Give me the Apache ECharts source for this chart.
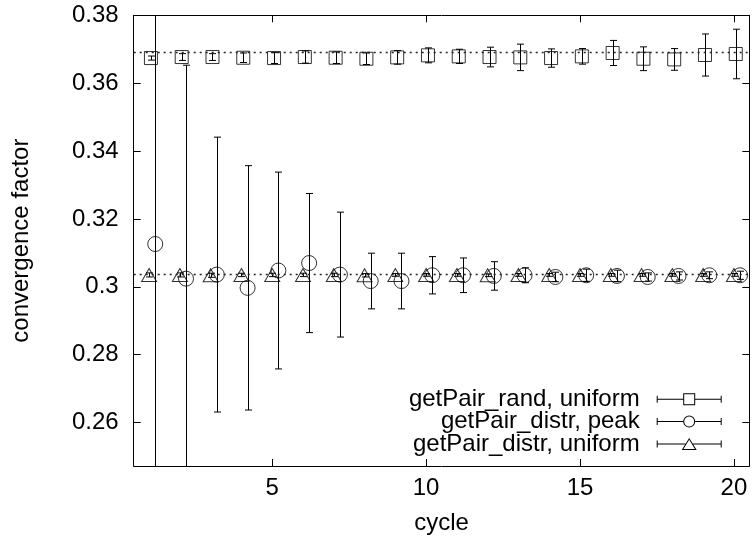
<!DOCTYPE html>
<html>
<head>
<meta charset="utf-8">
<script src="https://cdn.jsdelivr.net/npm/echarts@6/dist/echarts.min.js"></script>
<style>
  html, body { margin: 0; padding: 0; background: #ffffff; }
  #chart { width: 754px; height: 540px; }
</style>
</head>
<body>
<div id="chart"></div>
<script>
// ---- data -------------------------------------------------------------
const cycles = [1, 2, 3, 4, 5, 6, 7, 8, 9, 10, 11, 12, 13, 14, 15, 16, 17, 18, 19, 20];

const randUniformMean = [0.3674, 0.3677, 0.3677, 0.3675, 0.3674, 0.3677, 0.3675, 0.3672, 0.3676, 0.3682,
                         0.3679, 0.3677, 0.3676, 0.3674, 0.3679, 0.3689, 0.3672, 0.3670, 0.3683, 0.3686];
const randUniformErr  = [0.0006, 0.0010, 0.0010, 0.0014, 0.0016, 0.0018, 0.0017, 0.0017, 0.0020, 0.0022,
                         0.0021, 0.0029, 0.0039, 0.0027, 0.0023, 0.0037, 0.0035, 0.0032, 0.0062, 0.0073];

const distrPeakMean = [0.3126, 0.3024, 0.3036, 0.2997, 0.3048, 0.3070, 0.3036, 0.3017, 0.3017, 0.3034,
                       0.3034, 0.3032, 0.3034, 0.3029, 0.3034, 0.3032, 0.3029, 0.3032, 0.3034, 0.3034];
const distrPeakErr  = [0.0850, 0.0629, 0.0405, 0.0360, 0.0290, 0.0205, 0.0184, 0.0082, 0.0082, 0.0055,
                       0.0051, 0.0042, 0.0022, 0.0014, 0.0018, 0.0017, 0.0012, 0.0012, 0.0010, 0.0012];

const distrUniformMean = [0.3035, 0.3035, 0.3034, 0.3035, 0.3035, 0.3035, 0.3035, 0.3034, 0.3035, 0.3035,
                          0.3035, 0.3034, 0.3035, 0.3035, 0.3035, 0.3035, 0.3035, 0.3035, 0.3035, 0.3035];
const distrUniformErr  = [0.0006, 0.0006, 0.0006, 0.0005, 0.0005, 0.0005, 0.0005, 0.0005, 0.0004, 0.0004,
                          0.0004, 0.0004, 0.0004, 0.0004, 0.0004, 0.0004, 0.0004, 0.0004, 0.0004, 0.0004];

// expected (theoretical) convergence factors
const referenceLevels = [0.3692, 0.3036];

const seriesNames = ['getPair_rand, uniform', 'getPair_distr, peak', 'getPair_distr, uniform'];
const xTickValues = [5, 10, 15, 20];
const yTickValues = [0.26, 0.28, 0.30, 0.32, 0.34, 0.36, 0.38];

// small shift along the cycle axis so the three series do not sit on top of each other
const cycleShift = [0.06, 0.2, 0];

// ---- helpers ----------------------------------------------------------
const FONT = 'Liberation Sans';
const FS = 24;

function points(means, shift) {
  return cycles.map((c, i) => [c + shift, means[i]]);
}
function bars(means, errs, shift) {
  return cycles.map((c, i) => [c + shift, means[i] - errs[i], means[i] + errs[i]]);
}

function renderErrorBar(params, api) {
  const x = api.value(0);
  const top = api.coord([x, api.value(2)]);
  const bot = api.coord([x, api.value(1)]);
  const cx = Math.round(top[0]) + 0.5;
  const half = 3.5;
  const style = { stroke: '#000', lineWidth: 1, fill: null };
  const cs = params.coordSys;
  return {
    type: 'group',
    clipPath: { type: 'rect', shape: { x: cs.x, y: cs.y, width: cs.width, height: cs.height } },
    children: [
      { type: 'line', shape: { x1: cx, y1: top[1], x2: cx, y2: bot[1] }, style },
      { type: 'line', shape: { x1: cx - half, y1: top[1], x2: cx + half, y2: top[1] }, style },
      { type: 'line', shape: { x1: cx - half, y1: bot[1], x2: cx + half, y2: bot[1] }, style }
    ]
  };
}

// legend keys: a horizontal error bar with the marker in the middle (65 x 12)
const barPart = 'M0 5.5 H26.5 V6.5 H0 Z M38.5 5.5 H65 V6.5 H38.5 Z M0 2.5 H1 V9.5 H0 Z M64 2.5 H65 V9.5 H64 Z';
const legendIcons = [
  'path://' + barPart + ' M26.5 0 H38.5 V12 H26.5 Z M27.5 1 V11 H37.5 V1 Z',
  'path://' + barPart + ' M38.5 6 A6 6 0 1 1 26.5 6 A6 6 0 1 1 38.5 6 Z M37.5 6 A5 5 0 1 0 27.5 6 A5 5 0 1 0 37.5 6 Z',
  'path://M0 5.5 H28.8 V6.5 H0 Z M36.2 5.5 H65 V6.5 H36.2 Z M0 2.5 H1 V9.5 H0 Z M64 2.5 H65 V9.5 H64 Z' +
    ' M32.5 0 L40 12 L25 12 Z M32.5 1.9 L26.8 11 L38.2 11 Z'
];

const markerSymbols = ['rect', 'circle', 'triangle'];
const markerSizes = [[13, 13], 15, [15, 13]];
const meanSets = [randUniformMean, distrPeakMean, distrUniformMean];
const errSets = [randUniformErr, distrPeakErr, distrUniformErr];

const series = [];
seriesNames.forEach((name, k) => {
  series.push({
    name: name,
    type: 'custom',
    renderItem: renderErrorBar,
    data: bars(meanSets[k], errSets[k], cycleShift[k]),
    encode: { x: 0, y: [1, 2] },
    z: 2,
    silent: true
  });
  series.push({
    name: name,
    type: 'scatter',
    symbol: markerSymbols[k],
    symbolSize: markerSizes[k],
    data: points(meanSets[k], cycleShift[k]),
    itemStyle: { color: 'rgba(0,0,0,0)', borderColor: '#000', borderWidth: 1 },
    z: 3,
    silent: true
  });
});

// dotted reference levels
series.push({
  type: 'line',
  data: [],
  silent: true,
  markLine: {
    silent: true,
    symbol: 'none',
    precision: 6,
    label: { show: false },
    lineStyle: { color: '#222', width: 1.3, type: [2, 4] },
    data: referenceLevels.map(v => ({ yAxis: v }))
  }
});

const axisLineStyle = { show: true, lineStyle: { color: '#000', width: 1 } };
const tickStyle = (vals) => ({ show: true, inside: true, length: 7, lineStyle: { color: '#000', width: 1 }, customValues: vals });
const labelStyle = { color: '#000', fontFamily: FONT, fontSize: FS };

const option = {
  animation: false,
  backgroundColor: '#ffffff',
  textStyle: { fontFamily: FONT },
  grid: { left: 133.7, right: 4.7, top: 15.3, bottom: 66, containLabel: false },
  legend: {
    orient: 'vertical',
    align: 'right',
    right: 32.3,
    top: 387.3,
    padding: 0,
    itemWidth: 65,
    itemHeight: 12,
    itemGap: -1.7,
    selectedMode: false,
    itemStyle: { color: '#000', borderWidth: 0 },
    textStyle: { color: '#000', fontFamily: FONT, fontSize: FS, padding: [0, 12, 0, 0] },
    data: seriesNames.map((n, k) => ({ name: n, icon: legendIcons[k] }))
  },
  xAxis: [
    {
      type: 'value', position: 'bottom', min: 0.5, max: 20.5,
      name: 'cycle', nameLocation: 'middle', nameGap: 45,
      nameTextStyle: { color: '#000', fontFamily: FONT, fontSize: FS },
      axisLine: axisLineStyle,
      axisTick: tickStyle(xTickValues),
      axisLabel: Object.assign({ customValues: xTickValues, margin: 10 }, labelStyle),
      splitLine: { show: false }
    },
    {
      type: 'value', position: 'top', min: 0.5, max: 20.5,
      axisLine: axisLineStyle,
      axisTick: tickStyle(xTickValues),
      axisLabel: { show: false },
      splitLine: { show: false }
    }
  ],
  yAxis: [
    {
      type: 'value', position: 'left', min: 0.2472, max: 0.38,
      name: 'convergence factor', nameLocation: 'middle', nameGap: 100, nameRotate: 90,
      nameTextStyle: { color: '#000', fontFamily: FONT, fontSize: FS },
      axisLine: axisLineStyle,
      axisTick: tickStyle(yTickValues),
      axisLabel: Object.assign({ customValues: yTickValues, margin: 15,
        formatter: v => String(parseFloat(v.toFixed(2))) }, labelStyle),
      splitLine: { show: false }
    },
    {
      type: 'value', position: 'right', min: 0.2472, max: 0.38,
      axisLine: axisLineStyle,
      axisTick: tickStyle(yTickValues),
      axisLabel: { show: false },
      splitLine: { show: false }
    }
  ],
  series: series
};

const chart = echarts.init(document.getElementById('chart'), null, { renderer: 'canvas' });
chart.setOption(option);
</script>
</body>
</html>
